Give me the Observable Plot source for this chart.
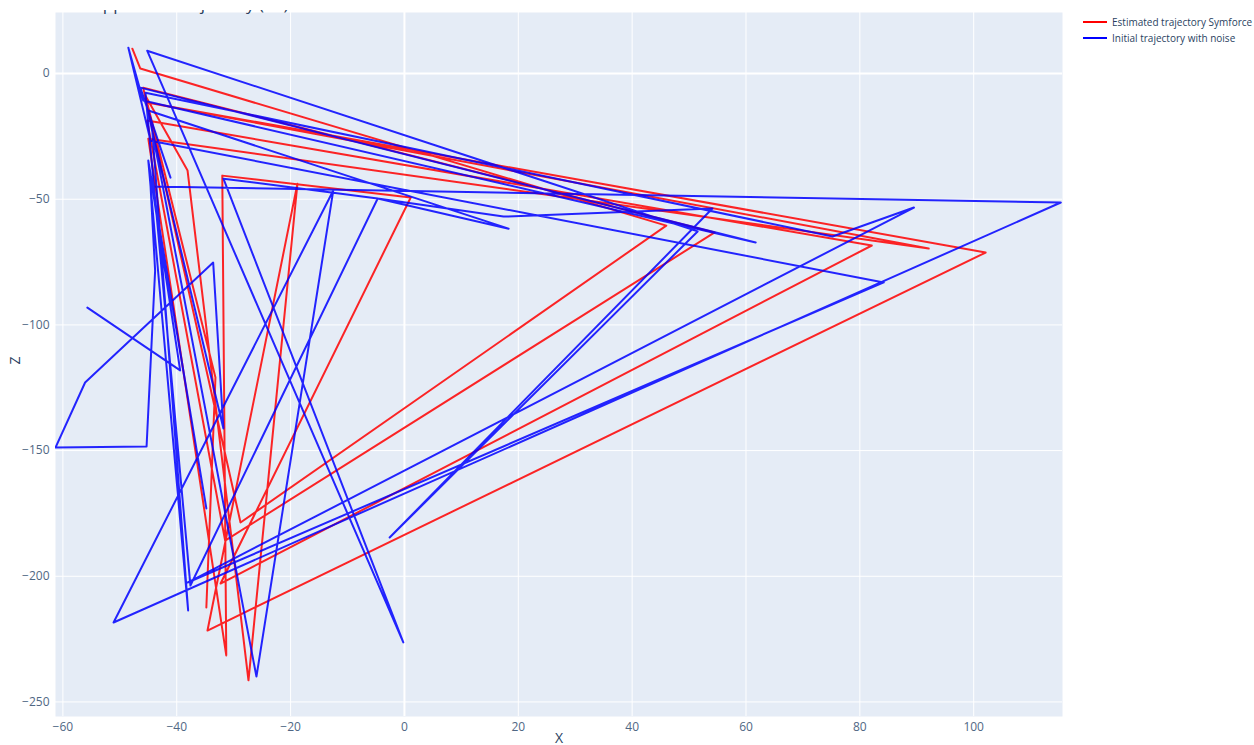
<!DOCTYPE html>
<html>
<head>
<meta charset="utf-8">
<script src="https://cdn.jsdelivr.net/npm/d3@7"></script>
<script src="https://cdn.jsdelivr.net/npm/@observablehq/plot@0.6"></script>
<style>
  html, body { margin: 0; padding: 0; background: #fff; }
  #wrap { position: relative; width: 1254px; height: 745px; font-family: "Open Sans", sans-serif; }
  #title { position: absolute; left: 0; top: 10px; width: 1062px; height: 5px; overflow: hidden; }
  #title span { position: absolute; left: 92px; top: -18px; font-size: 17px; line-height: 23px; color: #2a3f5f; white-space: nowrap; }
  #legend { position: absolute; left: 1083px; top: 14px; font-size: 10px; color: #2a3f5f; white-space: nowrap; }
  #legend .row { display: flex; align-items: center; height: 16px; white-space: nowrap; }
  #legend .sw { width: 24px; height: 2px; margin-right: 5px; flex: none; }
</style>
</head>
<body>
<div id="wrap">
  <div id="chart"></div>
  <div id="title"><span>Appended trajectory (XZ)</span></div>
  <div id="legend"></div>
</div>
<script>
// Estimated trajectory Symforce (red)
const redX = [-47.8, -46.4, 46.0, -28.8, -45.9, 54.5, -31.5, -45.2, 82.1, -32.3, 1.1, -32.0, -31.3, -45.0, 92.1, -45.2, 102.1, -34.6, -18.8, -27.4, -38.1, -45.5, -33.2, -34.8];
const redZ = [9.9, 2.0, -60.5, -178.6, -5.6, -63.2, -185.8, -18.7, -68.4, -202.9, -49.3, -40.6, -231.5, -25.9, -69.6, -11.5, -71.2, -221.6, -43.8, -241.4, -38.6, -8.8, -120.9, -212.4];

// Initial trajectory with noise (blue)
const blueX = [-41.1, -46.4, 61.7, -45.9, -48.5, -44.6, 84.2, -38.1, 89.5, 75.2, -45.5, -37.6, -4.7, 17.4, 54.1, -2.6, 51.5, -45.2, -0.2, -31.8, -4.7, 18.3, -45.0, -26.0, -12.5, -51.1, 115.3, -44.6, -43.8, -45.3, -61.3, -56.1, -33.6, -31.8, -44.3, -38.0, -45.0, -34.8, -44.6, -39.4, -55.7];
const blueZ = [-41.4, -5.6, -67.2, -10.7, 10.3, -26.7, -83.1, -202.5, -53.3, -64.8, -7.6, -203.7, -49.7, -56.9, -53.7, -184.6, -62.8, 9.1, -226.3, -41.8, -49.7, -61.7, -14.7, -239.9, -46.5, -218.4, -51.3, -44.9, -78.4, -148.4, -148.8, -122.9, -75.2, -141.2, -22.7, -213.6, -34.6, -173.0, -40.6, -118.1, -93.1];

const xTicks = [-60, -40, -20, 0, 20, 40, 60, 80, 100];
const zTicks = [0, -50, -100, -150, -200, -250];
const seriesNames = ["Estimated trajectory Symforce", "Initial trajectory with noise"];
const seriesColors = ["#ff0000", "#0000ff"];

const red = redX.map((x, i) => ({x, z: redZ[i]}));
const blue = blueX.map((x, i) => ({x, z: blueZ[i]}));
const fmt = d => (d < 0 ? "\u2212" + Math.abs(d) : String(d));

const plot = Plot.plot({
  width: 1070,
  height: 745,
  marginLeft: 55,
  marginRight: 8,
  marginTop: 12,
  marginBottom: 29,
  style: {fontFamily: "'Open Sans', sans-serif", fontSize: "12px", color: "#2a3f5f", background: "transparent"},
  x: {domain: [-61.3, 115.6], ticks: xTicks, tickFormat: fmt},
  y: {domain: [-255.8, 24.3], ticks: zTicks, tickFormat: fmt},
  marks: [
    Plot.frame({fill: "#E5ECF6", stroke: null}),
    Plot.gridX(xTicks, {stroke: "#ffffff", strokeOpacity: 1, strokeWidth: 1}),
    Plot.gridY(zTicks, {stroke: "#ffffff", strokeOpacity: 1, strokeWidth: 1}),
    Plot.ruleX([0], {stroke: "#ffffff", strokeWidth: 2}),
    Plot.ruleY([0], {stroke: "#ffffff", strokeWidth: 2}),
    Plot.axisX(xTicks, {tickSize: 0, tickPadding: 6, tickFormat: fmt, fill: "#506784", fontSize: 12, label: null}),
    Plot.axisY(zTicks, {tickSize: 0, tickPadding: 6, tickFormat: fmt, fill: "#506784", fontSize: 12, label: null}),
    Plot.text(["X"], {frameAnchor: "bottom", dy: 26, fontSize: 14, fill: "#2a3f5f"}),
    Plot.text(["Z"], {frameAnchor: "left", dx: -40, rotate: -90, fontSize: 14, fill: "#2a3f5f"}),
    Plot.line(red, {x: "x", y: "z", stroke: seriesColors[0], strokeWidth: 2, strokeOpacity: 0.85, clip: true}),
    Plot.line(blue, {x: "x", y: "z", stroke: seriesColors[1], strokeWidth: 2, strokeOpacity: 0.85, clip: true})
  ]
});
document.getElementById("chart").appendChild(plot);

const legend = document.getElementById("legend");
seriesNames.forEach((name, i) => {
  const row = document.createElement("div");
  row.className = "row";
  const sw = document.createElement("div");
  sw.className = "sw";
  sw.style.background = seriesColors[i];
  const label = document.createElement("span");
  label.textContent = name;
  row.appendChild(sw);
  row.appendChild(label);
  legend.appendChild(row);
});
</script>
</body>
</html>
